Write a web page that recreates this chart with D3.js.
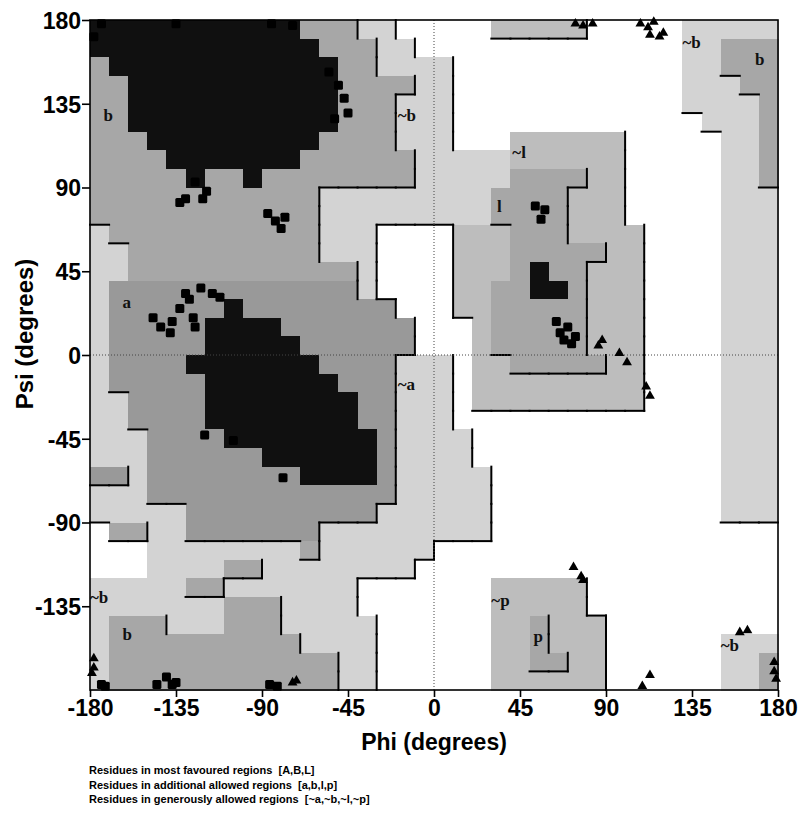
<!DOCTYPE html>
<html><head><meta charset="utf-8">
<script src="https://cdn.jsdelivr.net/npm/d3@7"></script>
<style>body{margin:0;background:#fff} svg{display:block}</style>
</head><body>
<svg id="chart" width="805" height="819"></svg>
<script>
// ---------------- data ----------------
const phiTicks = [-180, -135, -90, -45, 0, 45, 90, 135, 180];
const psiTicks = [-135, -90, -45, 0, 45, 90, 135, 180];

// Region map, 10x10 degree cells, run-length coded.
// Rows run from psi 180 (top) down to -180, columns from phi -180 to 180.
// '.' disallowed, '~' / 'm' generously allowed, 'a' / 'd' additional allowed, 'A' most favoured
const regionRows = [
  "A11 a3 ~2 .5 m5 .5 ~5",
  "A12 a3 ~2 .14 ~2 a3",
  "a1 A12 a2 ~4 .12 ~2 a3",
  "a2 A11 a4 ~2 .12 ~3 a2",
  "a2 A11 a3 ~3 .12 ~4 a1",
  "a2 A11 a3 ~3 .13 ~3 a1",
  "a3 A9 a4 ~3 .3 m6 .5 ~2 a1",
  "a4 A7 a6 ~5 m6 .5 ~2 a1",
  "a5 A1 a2 A1 a8 ~5 a4 m2 .5 ~2 a1",
  "a12 ~9 a4 m3 .5 ~3",
  "a12 ~9 a4 m3 .5 ~3",
  "~1 a11 ~3 .4 m3 a3 m4 .4 ~3",
  "~2 a10 ~3 .4 m3 a5 m2 .4 ~3",
  "~2 a12 ~1 .4 m3 a1 A1 a2 m3 .4 ~3",
  "~1 d13 ~1 .4 m2 a2 A2 a1 m3 .4 ~3",
  "~1 d6 A1 d8 .3 m2 a5 m3 .4 ~3",
  "~1 d5 A4 d7 .3 m1 a5 m3 .4 ~3",
  "~1 d5 A5 d6 .3 m1 a5 m3 .4 ~3",
  "~1 d4 A7 d4 ~3 .1 m2 a5 m2 .4 ~3",
  "~1 d5 A7 d3 ~3 .1 m9 .4 ~3",
  "~2 d4 A8 d2 ~3 .1 m9 .4 ~3",
  "~2 d4 A8 d2 ~3 .14 ~3",
  "~3 d4 A8 d1 ~4 .13 ~3",
  "~3 d6 A6 d1 ~4 .13 ~3",
  "d2 ~1 d8 A4 d1 ~5 .12 ~3",
  "~3 d13 ~5 .12 ~3",
  "~5 d10 ~6 .12 ~3",
  ".1 a2 ~2 d7 ~9 .15",
  ".3 ~8 a1 ~6 .18",
  ".3 ~4 a2 ~8 .19",
  "~5 a2 ~7 .7 m5 .10",
  "~7 a3 ~4 .7 m5 .10",
  "~1 a3 ~3 a3 ~5 .6 m2 a1 m3 .9",
  "~1 a10 ~4 .6 m2 a1 m3 .6 ~3",
  "~1 a12 ~2 .6 m2 a2 m2 .6 ~2 a1",
  "~1 a12 ~2 .6 m6 .6 ~2 a1"
];
const regionCodes  = [".", "~", "m", "a", "d", "A"];
const regionLevel  = [0, 1, 1, 2, 2, 3];
const regionColors = ["#ffffff", "#d3d3d3", "#bdbdbd", "#a7a7a7", "#999999", "#101010"];

// extra border segments seen on the plot: [phi1, psi1, phi2, psi2]
const extraBorders = [[80, -140, 90, -140], [10, 70, 10, 20], [-30, 30, -20, 30]];

// non-glycine residues (squares)
const residuePhi = [-178,-174,-135,-85,-74,-133,-130,-125,-119,-121,-87,-83,-78,-80,-55,-50,-47,-45,-52,
  -147,-143,-138,-133,-128,-125,-126,-122,-116,-112,-130,-137,-120,-105,-79,
  53,58,56,64,66,70,68,74,72,
  -174,-172,-145,-140,-137,-135,-86,-82];
const residuePsi = [171,178,178,178,177,82,84,93,88,84,76,72,74,68,152,145,138,130,127,
  20,15,12,25,30,15,20,36,33,31,33,18,-43,-46,-66,
  80,78,73,18,12,15,8,10,6,
  -177,-178,-177,-173,-177,-176,-177,-178];

// glycine residues (triangles)
const glycinePhi = [74,78,83,108,112,115,113,118,120,88,86,97,101,111,113,73,77,78,109,113,160,164,178,178,179,-178,-178,-179,-74,-72];
const glycinePsi = [178,177,178,178,176,179,172,171,173,8,5,1,-4,-17,-22,-114,-119,-121,-178,-172,-149,-148,-165,-170,-174,-163,-168,-171,-176,-175];

// region labels: text, phi, psi (left baseline)
const labelText = ["b", "~b", "a", "~a", "~l", "l", "~b", "b", "~b", "b", "~p", "p", "~b"];
const labelPhi  = [-173, -19, -163, -19, 41, 33, 130, 168, -180, -163, 30, 52, 150];
const labelPsi  = [126, 126, 25, -19, 106, 77, 165, 156, -133, -153, -135, -154, -159];

const legendLines = [
  "Residues in most favoured regions  [A,B,L]",
  "Residues in additional allowed regions  [a,b,l,p]",
  "Residues in generously allowed regions  [~a,~b,~l,~p]"
];

// ---------------- drawing ----------------
const svg = d3.select("#chart");
const x = d3.scaleLinear().domain([-180, 180]).range([90, 778]);
const y = d3.scaleLinear().domain([-180, 180]).range([690, 20]);
const FONT = "'Liberation Sans', Arial, Helvetica, sans-serif";

// decode grid
const grid = regionRows.map(s => {
  const out = [];
  s.split(" ").forEach(tok => {
    const ch = tok[0], n = +tok.slice(1);
    for (let i = 0; i < n; i++) out.push(regionCodes.indexOf(ch));
  });
  if (out.length !== 36) console.warn("row length", out.length, s);
  return out;
});

const cells = [];
grid.forEach((row, r) => row.forEach((k, c) => {
  cells.push({phi: -180 + 10 * c, psi: 180 - 10 * r, k});
}));

svg.append("g").selectAll("rect").data(cells.filter(d => d.k > 0)).join("rect")
  .attr("x", d => x(d.phi))
  .attr("y", d => y(d.psi))
  .attr("width", d => x(d.phi + 10) - x(d.phi) + 0.6)
  .attr("height", d => y(d.psi - 10) - y(d.psi) + 0.6)
  .attr("fill", d => regionColors[d.k])
  .attr("shape-rendering", "crispEdges");

// region border lines (drawn where the neighbour to the right / below is lower)
const lv = k => Math.min(regionLevel[k], 2);
const segs = extraBorders.slice();
for (let r = 0; r < 36; r++) for (let c = 0; c < 36; c++) {
  const v = lv(grid[r][c]);
  const phi = -180 + 10 * c, psi = 180 - 10 * r;
  if (c < 35 && lv(grid[r][c + 1]) < v) segs.push([phi + 10, psi, phi + 10, psi - 10]);
  if (r < 35 && lv(grid[r + 1][c]) < v) segs.push([phi, psi - 10, phi + 10, psi - 10]);
}
svg.append("g").selectAll("line").data(segs).join("line")
  .attr("x1", d => x(d[0])).attr("y1", d => y(d[1]))
  .attr("x2", d => x(d[2])).attr("y2", d => y(d[3]))
  .attr("stroke", "#000").attr("stroke-width", 2).attr("stroke-linecap", "square");

// zero lines
svg.append("line").attr("x1", x(0)).attr("x2", x(0)).attr("y1", y(180)).attr("y2", y(-180))
  .attr("stroke", "#444").attr("stroke-width", 1).attr("stroke-dasharray", "1,2");
svg.append("line").attr("x1", x(-180)).attr("x2", x(180)).attr("y1", y(0)).attr("y2", y(0))
  .attr("stroke", "#444").attr("stroke-width", 1).attr("stroke-dasharray", "1,2");

// region labels
svg.append("g").selectAll("text").data(labelText).join("text")
  .attr("x", (d, i) => x(labelPhi[i]))
  .attr("y", (d, i) => y(labelPsi[i]))
  .attr("font-family", "'Liberation Serif', 'Times New Roman', serif")
  .attr("font-weight", "bold")
  .attr("font-size", 17)
  .attr("fill", "#111")
  .text(d => d);

// residues
const sq = 9;
svg.append("g").selectAll("rect").data(residuePhi).join("rect")
  .attr("x", (d, i) => x(d) - sq / 2)
  .attr("y", (d, i) => y(residuePsi[i]) - sq / 2)
  .attr("width", sq).attr("height", sq)
  .attr("rx", 1.5)
  .attr("fill", "#000");
const tri = d3.symbol().type(d3.symbolTriangle).size(42);
svg.append("g").selectAll("path").data(glycinePhi).join("path")
  .attr("transform", (d, i) => `translate(${x(d)},${y(glycinePsi[i])})`)
  .attr("d", tri)
  .attr("fill", "#000");

// frame
svg.append("rect").attr("x", x(-180)).attr("y", y(180))
  .attr("width", x(180) - x(-180)).attr("height", y(-180) - y(180))
  .attr("fill", "none").attr("stroke", "#000").attr("stroke-width", 1.6);

// axes
const fmt = d => String(d);
const yAxis = svg.append("g").attr("transform", `translate(${x(-180)},0)`)
  .call(d3.axisLeft(y).tickValues(psiTicks).tickFormat(fmt).tickSize(8).tickPadding(1));
const xAxis = svg.append("g").attr("transform", `translate(0,${y(-180)})`)
  .call(d3.axisBottom(x).tickValues(phiTicks).tickFormat(fmt).tickSize(7).tickPadding(3));
[yAxis, xAxis].forEach(g => {
  g.select(".domain").remove();
  g.selectAll(".tick line").attr("stroke", "#000").attr("stroke-width", 1.6);
  g.selectAll("text").attr("font-family", FONT).attr("font-weight", "bold")
    .attr("font-size", 23).attr("fill", "#000");
});
yAxis.selectAll("text").attr("dy", "0.36em");

// axis titles
svg.append("text")
  .attr("transform", `translate(33,${(y(180) + y(-180)) / 2 - 21}) rotate(-90)`)
  .attr("text-anchor", "middle")
  .attr("font-family", FONT).attr("font-weight", "bold").attr("font-size", 24)
  .text("Psi (degrees)");
svg.append("text")
  .attr("x", x(0)).attr("y", 750)
  .attr("text-anchor", "middle")
  .attr("font-family", FONT).attr("font-weight", "bold").attr("font-size", 23)
  .text("Phi (degrees)");

// legend text
svg.append("g").selectAll("text").data(legendLines).join("text")
  .attr("x", 89).attr("y", (d, i) => 774 + i * 14.5)
  .attr("font-family", FONT).attr("font-weight", "bold").attr("font-size", 11)
  .attr("xml:space", "preserve")
  .style("white-space", "pre")
  .text(d => d);
</script>
</body></html>
